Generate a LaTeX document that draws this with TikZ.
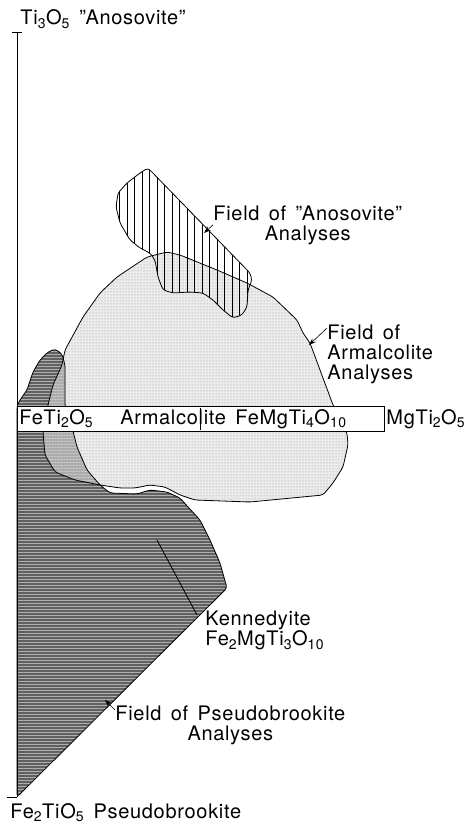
\documentclass[tikz,border=0pt]{standalone}
\usepackage{fontspec}
\setmainfont{TeX Gyre Heros}[LetterSpace=3.5,WordSpace=1.5]
\usetikzlibrary{positioning,arrows.meta,patterns}
\newcommand{\sbs}[1]{\textsubscript{#1}}
% field outlines, in pixel units of the sketch
\def\pbpath{(17,406) -- (20,400) -- (27,390) -- (33,372) -- (40,360) -- (48,352) -- (55,349) -- (62,354) -- (65,365) -- (65,406) -- (73,431) -- (77,447) -- (87,470) -- (100,485) -- (110,493) -- (137,494) -- (150,490) -- (167,492) -- (180,498) -- (188,507) -- (200,520) -- (210,540) -- (220,563) -- (227,588) -- (17,797) -- cycle}
\def\arpath{(167,252) -- (180,255) -- (217,270) -- (247,283) -- (273,297) -- (297,320) -- (303,333) -- (310,343) -- (333,405) -- (347,433) -- (348,445) -- (343,467) -- (333,483) -- (323,495) -- (250,502) -- (195,500) -- (180,495) -- (165,487) -- (150,485) -- (135,488) -- (120,488) -- (100,485) -- (75,480) -- (55,472) -- (45,455) -- (43,432) -- (48,405) -- (53,385) -- (62,365) -- (65,350) -- (83,317) -- (100,293) -- (117,277) -- (147,257) -- cycle}
\def\anpath{(148,168) -- (250,273) -- (252,280) -- (248,290) -- (247,307) -- (242,315) -- (233,318) -- (223,310) -- (213,300) -- (203,293) -- (190,292) -- (173,293) -- (163,290) -- (158,277) -- (155,260) -- (150,253) -- (140,248) -- (130,240) -- (120,223) -- (116,207) -- (118,193) -- (127,183) -- (140,173) -- cycle}

\begin{document}
\begin{tikzpicture}[x=1pt,y=-1pt, line width=0.8pt,
  lbl/.style={inner sep=0pt,font=\fontsize{20}{20}\selectfont},
  outline/.style={draw,rounded corners=3pt},
  pointer/.style={-{Stealth[length=7pt,width=5pt]},line width=0.6pt}]
  \useasboundingbox (0,0) rectangle (463,826);
  % pseudobrookite field
  \begin{scope}
    \clip[rounded corners=3pt] \pbpath;
    \fill[black!32] (0,340) rectangle (240,800);
    \foreach \y in {341,344,...,800}
      \draw[black!62,line width=1.1pt] (0,\y) -- (240,\y);
  \end{scope}
  % armalcolite field
  \fill[rounded corners=3pt,black!12,fill opacity=0.6] \arpath;
  \fill[rounded corners=3pt,pattern=dots,pattern color=black!45] \arpath;
  % anosovite field
  \begin{scope}
    \clip[rounded corners=3pt] \anpath;
    \foreach \x in {112,119.5,...,255}
      \draw[line width=0.7pt] (\x,160) -- (\x,320);
  \end{scope}
  \path[outline] \pbpath;
  \path[outline] \arpath;
  \path[outline] \anpath;
  % axis
  \coordinate (axtop) at (17,32);
  \coordinate (axbot) at (17,797);
  \draw (axtop) -- (axbot);
  \draw ([xshift=-5pt]axtop) -- ([xshift=5pt]axtop);
  \draw ([xshift=-10pt]axbot) -- (axbot);
  % composition band
  \draw[fill=white] (17,406) rectangle (384,431);
  \coordinate (mid) at (200,408);
  \draw (mid) -- ++(0,22);
  \node[lbl,anchor=base west] (feti) at (19,424) {FeTi\sbs{2}O\sbs{5}};
  \node[lbl,anchor=base west] (arm) at (120,424) {Armalcolite FeMgTi\sbs{4}O\sbs{10}};
  \node[lbl,anchor=base west] (mgti) at (386,424) {MgTi\sbs{2}O\sbs{5}};
  % end members
  \node[lbl,anchor=base west] (ano) at (20,25) {Ti\sbs{3}O\sbs{5} "Anosovite"};
  \node[lbl,anchor=base west] (pseudo) at (10,818) {Fe\sbs{2}TiO\sbs{5} Pseudobrookite};
  % field labels
  \node[lbl,align=center,anchor=north west] (anlbl) at (213,205) {Field of "Anosovite"\\Analyses};
  \coordinate (antip) at (204,233);
  \draw[pointer] (anlbl.west) -- (antip);
  \node[lbl,align=left,anchor=north west] (arlbl) at (327,324) {Field of\\Armalcolite\\Analyses};
  \coordinate (artip) at (309,345);
  \draw[pointer] ([yshift=-4pt]arlbl.north west) -- (artip);
  \node[lbl,align=center,anchor=north west] (pblbl) at (115,705) {Field of Pseudobrookite\\Analyses};
  \coordinate (pbtip) at (105,700);
  \draw[pointer] ([yshift=-5pt]pblbl.north west) -- (pbtip);
  % kennedyite
  \coordinate (kin) at (157,540);
  \coordinate (kout) at (197,615);
  \draw (kin) -- (kout);
  \node[lbl,align=left,anchor=north west] (ken) at (205,611) {Kennedyite\\Fe\sbs{2}MgTi\sbs{3}O\sbs{10}};
\end{tikzpicture}
\end{document}
